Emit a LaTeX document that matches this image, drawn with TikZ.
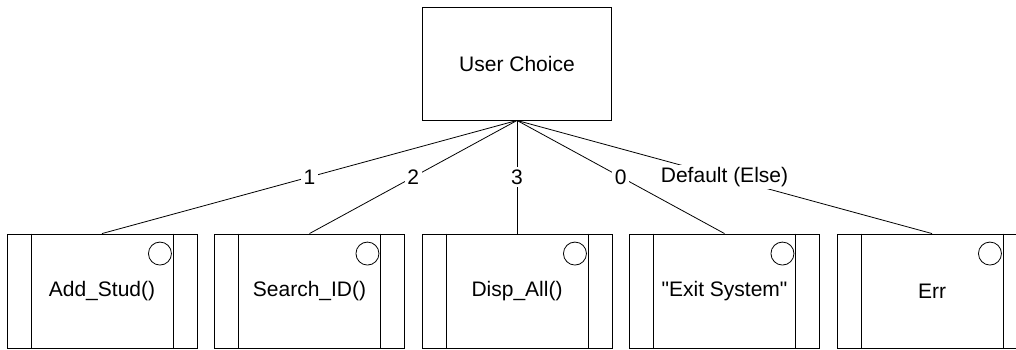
\documentclass[tikz,border=0pt]{standalone}
\usepackage{fontspec}
\setmainfont{Liberation Sans}[Ligatures=TeXOff]
\usetikzlibrary{calc}
\begin{document}
\begin{tikzpicture}[x=1pt,y=-1pt,
  every node/.style={font=\fontsize{21}{25}\selectfont},
  choicebox/.style={draw,line width=0.9pt,minimum width=189pt,minimum height=113pt,inner sep=0pt},
  procbox/.style={draw,line width=0.9pt,minimum width=190pt,minimum height=114pt,inner sep=0pt},
  branch/.style={line width=0.8pt},
  caselabel/.style={fill=white,inner sep=2.5pt}]
\useasboundingbox (0,0) rectangle (1016,349);

\node[choicebox] (uc) at (517,63.5) {User Choice};

\node[procbox] (p1) at (102,291) {Add\_Stud()};
\node[procbox] (p2) at (309.5,291) {Search\_ID()};
\node[procbox] (p3) at (517,291) {Disp\_All()};
\node[procbox] (p4) at (724.5,291) {"Exit System"};
\node[procbox] (p5) at (932,291) {Err};

% side bars and the corner circle of each process box
\foreach \p in {p1,p2,p3,p4,p5}{
  \draw[line width=0.9pt] ($(\p.north west)+(24.5,0)$) -- ($(\p.south west)+(24.5,0)$);
  \draw[line width=0.9pt] ($(\p.north east)+(-24.5,0)$) -- ($(\p.south east)+(-24.5,0)$);
  \draw[line width=0.8pt] ($(\p.north east)+(-37.5,20)$) circle[radius=11.5pt];
}

% branches from the choice to each case
\draw[branch] (uc.south) -- node[caselabel]{1} (p1.north);
\draw[branch] (uc.south) -- node[caselabel]{2} (p2.north);
\draw[branch] (uc.south) -- node[caselabel]{3} (p3.north);
\draw[branch] (uc.south) -- node[caselabel]{0} (p4.north);
\draw[branch] (uc.south) -- node[caselabel]{Default (Else)} (p5.north);
\end{tikzpicture}
\end{document}
